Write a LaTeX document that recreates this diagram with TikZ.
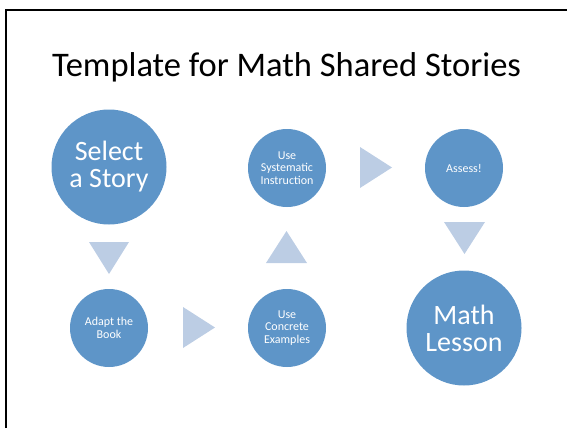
\documentclass[tikz,border=0pt]{standalone}
\usepackage{fontspec}
\setmainfont{Carlito}
\definecolor{stepblue}{HTML}{5E95C8}
\definecolor{flowblue}{HTML}{BCCDE4}
\tikzset{
  bigstep/.style={circle, fill=stepblue, draw=none, inner sep=0pt,
    minimum size=115pt, text=white, align=center,
    font=\fontsize{28}{27}\selectfont},
  smallstep/.style={circle, fill=stepblue, draw=none, inner sep=0pt,
    minimum size=78pt, text=white, align=center,
    font=\fontsize{12}{12.5}\selectfont},
  flow/.style={fill=flowblue, draw=none},
  frameline/.style={draw=black, line width=2pt}
}
\begin{document}
\begin{tikzpicture}[x=1pt,y=-1pt]
  \useasboundingbox (0,0) rectangle (567,428);
  % slide frame (left and top edges)
  \draw[frameline] (6,428) -- (6,10.3) -- (567,10.3);

  % title
  \node[anchor=base, inner sep=0pt, font=\fontsize{34.5}{38}\selectfont]
    (title) at (286.5,76) {Template for Math Shared Stories};

  % steps
  \node[bigstep]   (select)   at (109,167) {Select\\a Story};
  \node[smallstep] (adapt)    at (109,328) {Adapt the\\Book};
  \node[smallstep] (concrete) at (287,328) {Use\\Concrete\\Examples};
  \node[smallstep] (system)   at (287,168) {Use\\Systematic\\Instruction};
  \node[smallstep] (assess)   at (464,168) {Assess!};
  \node[bigstep]   (lesson)   at (464,328) {Math\\Lesson};

  % flow triangles between the steps
  \coordinate (selectadapt)    at (109,258);
  \coordinate (adaptconcrete)  at (199,327.5);
  \coordinate (concretesystem) at (286.5,247);
  \coordinate (systemassess)   at (376,167.5);
  \coordinate (assesslesson)   at (464.5,238);
  \fill[flow] (selectadapt)    ++(-20,-16) -- ++(40,0) -- ++(-20,32) -- cycle;
  \fill[flow] (adaptconcrete)  ++(-16,-20.5) -- ++(32,20.5) -- ++(-32,20.5) -- cycle;
  \fill[flow] (concretesystem) ++(-20.5,16) -- ++(41,0) -- ++(-20.5,-32) -- cycle;
  \fill[flow] (systemassess)   ++(-16,-20.5) -- ++(32,20.5) -- ++(-32,20.5) -- cycle;
  \fill[flow] (assesslesson)   ++(-20.5,-16) -- ++(41,0) -- ++(-20.5,32) -- cycle;
\end{tikzpicture}
\end{document}
